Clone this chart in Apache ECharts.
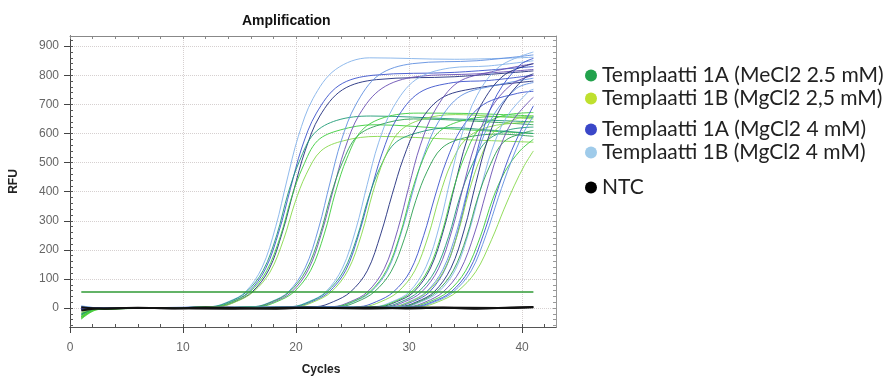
<!DOCTYPE html>
<html>
<head>
<meta charset="utf-8">
<script src="https://cdn.jsdelivr.net/npm/echarts@6/dist/echarts.min.js"></script>
<style>
  html, body { margin: 0; padding: 0; background: #fff; }
  #chart { width: 886px; height: 381px; }
</style>
</head>
<body>
<div id="chart"></div>
<script>
// legend groups (wells)
const groups = [
  'Templaatti 1A (MeCl2 2.5 mM)',
  'Templaatti 1B (MgCl2 2,5 mM)',
  'Templaatti 1A (MgCl2 4 mM)',
  'Templaatti 1B (MgCl2 4 mM)',
  'NTC'
];

// axis ticks / labels
const cycleLabels = [0, 10, 20, 30, 40];
const cycleMinor = [0, 2, 4, 6, 8, 10, 12, 14, 16, 18, 20, 22, 24, 26, 28, 30, 32, 34, 36, 38, 40, 42];
const rfuLabels = [0, 100, 200, 300, 400, 500, 600, 700, 800, 900];
const rfuMinor = [-60, -40, -20, 0, 20, 40, 60, 80, 100, 120, 140, 160, 180, 200, 220, 240, 260, 280, 300,
  320, 340, 360, 380, 400, 420, 440, 460, 480, 500, 520, 540, 560, 580, 600, 620, 640, 660, 680, 700,
  720, 740, 760, 780, 800, 820, 840, 860, 880, 900, 920];

// threshold line
const threshold = [[1, 55], [41, 55]];

// NTC wells
const ntcA = [[1, 3], [3, -2], [6, 1], [9, -1], [12, 2], [15, 0], [18, -2], [21, 1], [24, 0], [27, 2], [30, -1], [33, 1], [36, -2], [39, 2], [41, 4]];
const ntcB = [[1, -8], [2.5, -1], [8, 0], [14, -2], [20, 1], [26, -1], [32, 2], [38, 0], [41, 3]];

// amplification curves, [cycle, RFU], grouped by Ct cluster
const cluster1 = [
  [[1, 4], [2.5, 1], [12.5, 5], [14, 22], [15.5, 55], [17, 140], [18.2, 280], [19.2, 440], [20.2, 590], [21.5, 720], [23.5, 820], [26.5, 860], [34, 855], [41, 862]],
  [[1, -5], [2.5, 0], [12.8, 5], [14.3, 22], [15.8, 55], [17.3, 135], [18.5, 265], [19.5, 410], [20.5, 550], [21.8, 670], [23.8, 765], [26.8, 800], [34, 810], [41, 830]],
  [[1, 2], [2.5, 0], [13.1, 5], [14.6, 22], [16.1, 55], [17.6, 132], [18.8, 262], [19.8, 405], [20.8, 540], [22.1, 660], [24.1, 750], [27.1, 785], [34, 795], [41, 815]],
  [[1, -30], [2.5, -3], [12.6, 5], [14.1, 22], [15.6, 55], [17.1, 130], [18.3, 252], [19.3, 395], [20.3, 505], [21.6, 600], [23.6, 645], [26.6, 660], [34, 650], [41, 640]],
  [[1, -38], [2.5, -5], [12.9, 5], [14.4, 22], [15.9, 55], [17.4, 128], [18.6, 245], [19.6, 380], [20.6, 485], [21.9, 575], [23.9, 612], [26.9, 630], [34, 615], [41, 600]],
  [[1, -25], [2.5, -2], [13.2, 5], [14.7, 22], [16.2, 55], [17.7, 124], [18.9, 236], [19.9, 362], [20.9, 460], [22.2, 540], [24.2, 575], [27.2, 590], [34, 580], [41, 570]]
];
const cluster1Groups = [3, 2, 2, 0, 1, 1];

const cluster2 = [
  [[1, 6], [2.5, 1], [16.3, 5], [17.8, 22], [19.3, 55], [20.8, 138], [22, 275], [23, 430], [24, 575], [25.3, 700], [27.3, 800], [30.3, 840], [36, 850], [41, 870]],
  [[1, -3], [2.5, 0], [16.6, 5], [18.1, 22], [19.6, 55], [21.1, 133], [22.3, 263], [23.3, 408], [24.3, 545], [25.6, 665], [27.6, 755], [30.6, 795], [36, 805], [41, 820]],
  [[1, -28], [2.5, -3], [16.4, 5], [17.9, 22], [19.4, 55], [20.9, 130], [22.1, 250], [23.1, 390], [24.1, 500], [25.4, 590], [27.4, 630], [30.4, 650], [36, 642], [41, 630]],
  [[1, -34], [2.5, -4], [16.8, 5], [18.3, 22], [19.8, 55], [21.3, 130], [22.5, 255], [23.5, 400], [24.5, 515], [25.8, 610], [27.8, 655], [30.8, 670], [36, 668], [41, 660]]
];
const cluster2Groups = [3, 2, 0, 1];

const cluster3 = [
  [[1, 3], [2.5, 0], [19.6, 5], [21.1, 22], [22.6, 55], [24.1, 137], [25.3, 272], [26.3, 425], [27.3, 568], [28.6, 690], [30.6, 785], [33.6, 825], [37, 832], [41, 850]],
  [[1, -6], [2.5, 0], [19.9, 5], [21.4, 22], [22.9, 55], [24.4, 130], [25.6, 260], [26.6, 400], [27.6, 530], [28.9, 650], [30.9, 740], [33.9, 775], [37, 782], [41, 800]],
  [[1, -22], [2.5, -2], [19.7, 5], [21.2, 22], [22.7, 55], [24.2, 127], [25.4, 244], [26.4, 378], [27.4, 480], [28.7, 565], [30.7, 602], [33.7, 620], [37, 612], [41, 600]],
  [[1, -36], [2.5, -4], [20.1, 5], [21.6, 22], [23.1, 55], [24.6, 130], [25.8, 254], [26.8, 398], [27.8, 512], [29.1, 605], [31.1, 648], [34.1, 665], [37, 660], [41, 650]],
  [[1, 0], [2.5, 0], [21.8, 5], [23.3, 22], [24.8, 55], [26.3, 128], [27.5, 255], [28.5, 390], [29.5, 515], [30.8, 630], [32.8, 720], [35.8, 755], [41, 780]]
];
const cluster3Groups = [3, 2, 0, 1, 2];

const cluster4 = [
  [[1, -4], [2.5, 0], [23.3, 5], [24.8, 22], [26.3, 55], [27.8, 135], [29, 270], [30, 420], [31, 560], [32.3, 680], [34.3, 775], [37.3, 812], [41, 840]],
  [[1, 5], [2.5, 1], [23.6, 5], [25.1, 22], [26.6, 55], [28.1, 130], [29.3, 258], [30.3, 396], [31.3, 525], [32.6, 640], [34.6, 730], [37.6, 765], [41, 790]],
  [[1, -30], [2.5, -3], [23.5, 5], [25, 22], [26.5, 55], [28, 130], [29.2, 252], [30.2, 395], [31.2, 508], [32.5, 600], [34.5, 642], [37.5, 658], [41, 655]],
  [[1, -18], [2.5, -2], [23.9, 5], [25.4, 22], [26.9, 55], [28.4, 125], [29.6, 240], [30.6, 370], [31.6, 470], [32.9, 550], [34.9, 585], [37.9, 598], [41, 590]],
  [[1, 0], [2.5, 0], [25.6, 5], [27.1, 22], [28.6, 55], [30.1, 127], [31.3, 250], [32.3, 385], [33.3, 505], [34.6, 615], [36.6, 700], [39.6, 738], [41, 745]],
  [[1, -32], [2.5, -3], [26, 5], [27.5, 22], [29, 55], [30.5, 128], [31.7, 248], [32.7, 385], [33.7, 495], [35, 580], [37, 622], [40, 638], [41, 640]]
];
const cluster4Groups = [2, 3, 1, 0, 2, 1];

const cluster5 = [
  [[1, 8], [2.5, 1], [27, 5], [28.5, 22], [30, 55], [31.5, 142], [32.7, 285], [33.7, 450], [34.7, 600], [36, 730], [38, 830], [41, 880]],
  [[1, -2], [2.5, 0], [27.4, 5], [28.9, 22], [30.4, 55], [31.9, 138], [33.1, 275], [34.1, 430], [35.1, 575], [36.4, 700], [38.4, 800], [41, 840]],
  [[1, -35], [2.5, -4], [27.2, 5], [28.7, 22], [30.2, 55], [31.7, 132], [32.9, 258], [33.9, 405], [34.9, 520], [36.2, 615], [38.2, 660], [41, 672]],
  [[1, -24], [2.5, -2], [27.8, 5], [29.3, 22], [30.8, 55], [32.3, 128], [33.5, 246], [34.5, 382], [35.5, 485], [36.8, 572], [38.8, 612], [41, 622]],
  [[1, 1], [2.5, 0], [28.1, 5], [29.6, 22], [31.1, 55], [32.6, 135], [33.8, 268], [34.8, 418], [35.8, 558], [37.1, 678], [39.1, 770], [41, 800]],
  [[1, 4], [2.5, 0], [28.5, 5], [30, 22], [31.5, 55], [33, 133], [34.2, 262], [35.2, 410], [36.2, 548], [37.5, 665], [39.5, 755], [41, 775]],
  [[1, -6], [2.5, 0], [28.8, 5], [30.3, 22], [31.8, 55], [33.3, 143], [34.5, 288], [35.5, 455], [36.5, 605], [37.8, 735], [39.8, 835], [41, 858]],
  [[1, -28], [2.5, -3], [28.6, 5], [30.1, 22], [31.6, 55], [33.1, 130], [34.3, 255], [35.3, 400], [36.3, 515], [37.6, 610], [39.6, 652], [41, 660]]
];
const cluster5Groups = [3, 2, 1, 0, 2, 3, 2, 1];

const cluster6 = [
  [[1, -3], [2.5, 0], [29.2, 5], [30.7, 22], [32.2, 55], [33.7, 137], [34.9, 272], [35.9, 428], [36.9, 572], [38.2, 695], [40.2, 790], [41, 805]],
  [[1, 3], [2.5, 0], [29.6, 5], [31.1, 22], [32.6, 55], [34.1, 132], [35.3, 262], [36.3, 405], [37.3, 540], [38.6, 655], [40.6, 745], [41, 752]],
  [[1, -20], [2.5, -2], [29.4, 5], [30.9, 22], [32.4, 55], [33.9, 128], [35.1, 246], [36.1, 382], [37.1, 485], [38.4, 572], [40.4, 605], [41, 610]],
  [[1, -1], [2.5, 0], [30, 5], [31.5, 22], [33, 55], [34.5, 128], [35.8, 258], [36.8, 395], [37.8, 525], [39.1, 640], [41, 725]],
  [[1, -30], [2.5, -3], [30.2, 5], [31.8, 22], [33.4, 55], [35, 128], [36.3, 245], [37.4, 375], [38.5, 470], [39.8, 540], [41, 580]],
  [[1, -5], [2.5, 0], [30.5, 5], [32.1, 22], [33.7, 55], [35.3, 130], [36.6, 255], [37.7, 390], [38.8, 515], [40, 620], [41, 695]],
  [[1, -15], [2.5, -1], [31, 5], [32.6, 22], [34.2, 55], [35.9, 125], [37.3, 235], [38.4, 340], [39.3, 420], [40.2, 490], [41, 540]],
  [[1, 2], [2.5, 0], [30.7, 5], [32.3, 22], [33.9, 55], [35.5, 128], [36.8, 250], [37.9, 380], [39, 500], [40.1, 600], [41, 660]]
];
const cluster6Groups = [2, 3, 0, 2, 1, 2, 1, 3];

// ---- styling ----
const legendColors = ['#22a24c', '#bfe02e', '#3a47c8', '#9fcbea', '#000000'];
const lineShades = [
  ['#1d9a74', '#2a9e50'],
  ['#3ccc3c', '#86d84a'],
  ['#3b52cc', '#1f2c7c', '#6a50b4'],
  ['#84b2ea', '#5f8fe0']
];

const chart = echarts.init(document.getElementById('chart'));

const series = [];
const used = [0, 0, 0, 0];
function addCluster(curves, grp) {
  curves.forEach((pts, i) => {
    const g = grp[i];
    const shades = lineShades[g];
    const color = shades[used[g]++ % shades.length];
    series.push({
      name: groups[g],
      type: 'line',
      data: pts,
      smooth: 0.35,
      showSymbol: false,
      silent: true,
      color: legendColors[g],
      lineStyle: { width: 1, color: color, opacity: 0.9 }
    });
  });
}
addCluster(cluster1, cluster1Groups);
addCluster(cluster2, cluster2Groups);
addCluster(cluster3, cluster3Groups);
addCluster(cluster4, cluster4Groups);
addCluster(cluster5, cluster5Groups);
addCluster(cluster6, cluster6Groups);

[ntcA, ntcB].forEach(pts => {
  series.push({
    name: groups[4],
    type: 'line',
    data: pts,
    smooth: 0.35,
    showSymbol: false,
    silent: true,
    color: '#000',
    lineStyle: { width: 2, color: '#111' }
  });
});

series.push({
  name: 'Threshold',
  type: 'line',
  data: threshold,
  showSymbol: false,
  silent: true,
  lineStyle: { width: 1.5, color: '#2f9a35' }
});

const labelStyle = { color: '#666', fontFamily: 'Liberation Sans, Arial', fontSize: 12 };
const nameStyle = { fontFamily: 'Liberation Sans, Arial', fontSize: 12, fontWeight: 'bold', color: '#222' };
const legendText = { color: '#222', fontFamily: 'Lato', fontSize: 21, lineHeight: 21 };
function legendBlock(top, idx) {
  return {
    top: top,
    left: 580,
    orient: 'vertical',
    icon: 'circle',
    itemWidth: 12,
    itemHeight: 12,
    itemGap: 2,
    selectedMode: false,
    textStyle: legendText,
    data: idx.map(i => ({ name: groups[i], itemStyle: { color: legendColors[i] } }))
  };
}

chart.setOption({
  animation: false,
  backgroundColor: '#fff',
  title: {
    text: 'Amplification',
    left: 237,
    top: 9,
    textStyle: { fontFamily: 'Liberation Sans, Arial', fontSize: 14, fontWeight: 'bold', color: '#111' }
  },
  legend: [legendBlock(60, [0, 1]), legendBlock(114, [2, 3]), legendBlock(172, [4])],
  grid: { left: 70, top: 36, width: 486, height: 297 },
  xAxis: [{
    type: 'value',
    min: 0,
    max: 43,
    name: 'Cycles',
    nameLocation: 'middle',
    nameGap: 37,
    nameTextStyle: { ...nameStyle, padding: [0, 0, 0, 16] },
    axisLine: { onZero: false, lineStyle: { color: '#555' } },
    axisTick: { customValues: cycleLabels, length: 6, lineStyle: { color: '#444' } },
    axisLabel: { customValues: cycleLabels, margin: 15, ...labelStyle },
    splitLine: { show: true, lineStyle: { color: '#d6d0d0', type: 'dotted' } }
  }, {
    type: 'value',
    min: 0,
    max: 43,
    position: 'bottom',
    axisLine: { show: true, onZero: false, lineStyle: { color: '#555' } },
    axisTick: { show: true, customValues: cycleMinor, inside: true, length: 3, lineStyle: { color: '#555' } },
    axisLabel: { show: false },
    splitLine: { show: false }
  }, {
    type: 'value',
    min: 0,
    max: 43,
    position: 'top',
    axisLine: { show: true, onZero: false, lineStyle: { color: '#888' } },
    axisTick: { show: true, customValues: cycleMinor, inside: true, length: 3, lineStyle: { color: '#888' } },
    axisLabel: { show: false },
    splitLine: { show: false }
  }],
  yAxis: [{
    type: 'value',
    min: -65,
    max: 935,
    name: 'RFU',
    nameLocation: 'middle',
    nameGap: 50,
    nameTextStyle: nameStyle,
    axisLine: { show: true, onZero: false, lineStyle: { color: '#444' } },
    axisTick: { show: true, customValues: rfuLabels, length: 6, lineStyle: { color: '#444' } },
    axisLabel: { customValues: rfuLabels, margin: 11, ...labelStyle },
    splitLine: { show: true, lineStyle: { color: '#d6d0d0', type: 'dotted' } }
  }, {
    type: 'value',
    min: -65,
    max: 935,
    position: 'left',
    axisLine: { show: true, onZero: false, lineStyle: { color: '#444' } },
    axisTick: { show: true, customValues: rfuMinor, inside: true, length: 3, lineStyle: { color: '#555' } },
    axisLabel: { show: false },
    splitLine: { show: false }
  }, {
    type: 'value',
    min: -65,
    max: 935,
    position: 'right',
    axisLine: { show: true, onZero: false, lineStyle: { color: '#999' } },
    axisTick: { show: true, customValues: rfuMinor, inside: true, length: 3, lineStyle: { color: '#999' } },
    axisLabel: { show: false },
    splitLine: { show: false }
  }],
  series: series
});
</script>
</body>
</html>
